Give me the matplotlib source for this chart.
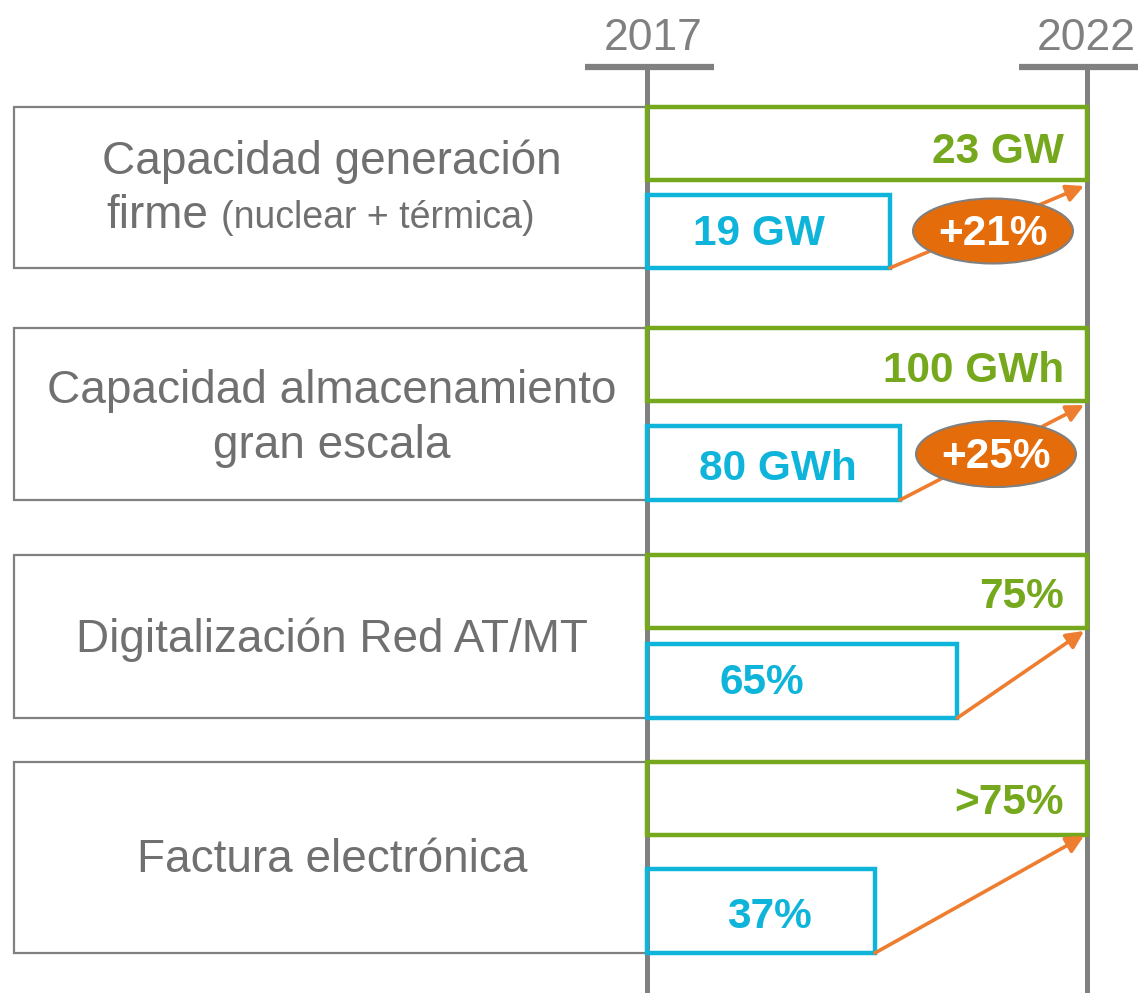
import matplotlib
matplotlib.use('agg')
import matplotlib.pyplot as plt
from matplotlib.patches import Rectangle, Ellipse

plt.rcParams['font.family'] = ['Liberation Sans', 'DejaVu Sans']

# ---- data ----
years = ['2017', '2022']
categories = ['Capacidad generación\nfirme', 'Capacidad almacenamiento\ngran escala',
              'Digitalización Red AT/MT', 'Factura electrónica']
cat_note = ['(nuclear + térmica)', None, None, None]
labels_2017 = ['19 GW', '80 GWh', '65%', '37%']
labels_2022 = ['23 GW', '100 GWh', '75%', '>75%']
# bar length relative to the 2022 target bar (2017 axis = 0, 2022 axis = 1)
rel_2017 = [0.552, 0.575, 0.705, 0.518]
rel_2022 = [1.0, 1.0, 1.0, 1.0]
growth = ['+21%', '+25%', None, None]

# ---- colours ----
GREEN = '#76A81D'
BLUE = '#0FB4DA'
ORANGE = '#E46C0A'
ARROW = '#EE7D2F'
GRAY = '#808080'
TXT = '#707070'

# ---- layout (pixels) ----
W, H = 1138, 993
X0, SPAN = 647, 440          # x pixel of 2017 axis, distance to 2022 axis
def fx(p):
    return (p - X0) / SPAN

row_top = [107, 328, 555, 762]
row_bot = [268, 500, 718, 953]
h_2022 = [73, 73, 73, 73]
h_2017 = [73, 74, 74, 84]
lab17_x = [759, 778, 762, 769]
lab17_base = [245, 480, 694, 928]
lab22_x = 1064
lab22_base = [163, 382, 608, 814]
ell_c = [(993, 231), (996, 454)]
ell_wh = [(160, 65), (160, 66)]
ell_base = [245, 468]
tip_y = [186, 405, 631, 836]
cat_x = 332
cat_base = [[174, 228], [403, 458], [652], [872]]

fig = plt.figure(figsize=(W / 100, H / 100), dpi=100)
ax = fig.add_axes([0, 0, 1, 1])
ax.set_xlim(fx(0), fx(W))
ax.set_ylim(H, 0)
ax.axis('off')

# year axes
for i, yr in enumerate(years):
    ax.plot([i, i], [67, H + 5], color=GRAY, lw=3.6, zorder=1, solid_capstyle='butt')
for (a, b) in [(585, 714), (1019, 1140)]:
    ax.plot([fx(a), fx(b)], [67, 67], color=GRAY, lw=4.5, zorder=1, solid_capstyle='butt')
ax.text(fx(653), 50, years[0], ha='center', va='baseline', fontsize=32, color=GRAY)
ax.text(fx(1086), 50, years[1], ha='center', va='baseline', fontsize=32, color=GRAY)

for i in range(len(categories)):
    top, bot = row_top[i], row_bot[i]
    # category box
    ax.add_patch(Rectangle((fx(14), top), fx(X0) - fx(14), bot - top, fill=False,
                           edgecolor=GRAY, lw=1.6, zorder=1))
    # 2022 bar
    c22 = top + h_2022[i] / 2
    ax.barh(c22, rel_2022[i], left=0, height=h_2022[i], fill=False,
            edgecolor=GREEN, lw=3.2, zorder=3)
    ax.text(fx(lab22_x), lab22_base[i], labels_2022[i], ha='right', va='baseline',
            fontsize=30.5, fontweight='bold', color=GREEN, zorder=5)
    # 2017 bar
    c17 = bot - h_2017[i] / 2
    ax.barh(c17, rel_2017[i], left=0, height=h_2017[i], fill=False,
            edgecolor=BLUE, lw=3.2, zorder=3)
    ax.text(fx(lab17_x[i]), lab17_base[i], labels_2017[i], ha='center', va='baseline',
            fontsize=30.5, fontweight='bold', color=BLUE, zorder=5)
    # arrow
    ax.annotate('', xy=(fx(1084), tip_y[i]), xytext=(rel_2017[i], bot),
                arrowprops=dict(arrowstyle='-|>', color=ARROW, lw=2.6,
                                mutation_scale=26, shrinkA=0, shrinkB=0),
                zorder=3)
    # growth bubble
    if growth[i]:
        cx, cy = ell_c[i]
        ew, eh = ell_wh[i]
        ax.add_patch(Ellipse((fx(cx), cy), ew / SPAN, eh, facecolor=ORANGE,
                             edgecolor=GRAY, lw=1.5, zorder=4))
        ax.text(fx(cx), ell_base[i], growth[i], ha='center', va='baseline', fontsize=30.5,
                fontweight='bold', color='white', zorder=5)
    # category label
    lines = categories[i].split('\n')
    if cat_note[i]:
        ax.text(fx(cat_x), cat_base[i][0], lines[0], ha='center', va='baseline',
                fontsize=33, color=TXT)
        ax.text(fx(208), cat_base[i][1], lines[1], ha='right', va='baseline',
                fontsize=33, color=TXT)
        ax.text(fx(221), cat_base[i][1], cat_note[i], ha='left', va='baseline',
                fontsize=27, color=TXT)
    else:
        for ln, yb in zip(lines, cat_base[i]):
            ax.text(fx(cat_x), yb, ln, ha='center', va='baseline', fontsize=33, color=TXT)

fig.savefig('out.png', dpi=100)
